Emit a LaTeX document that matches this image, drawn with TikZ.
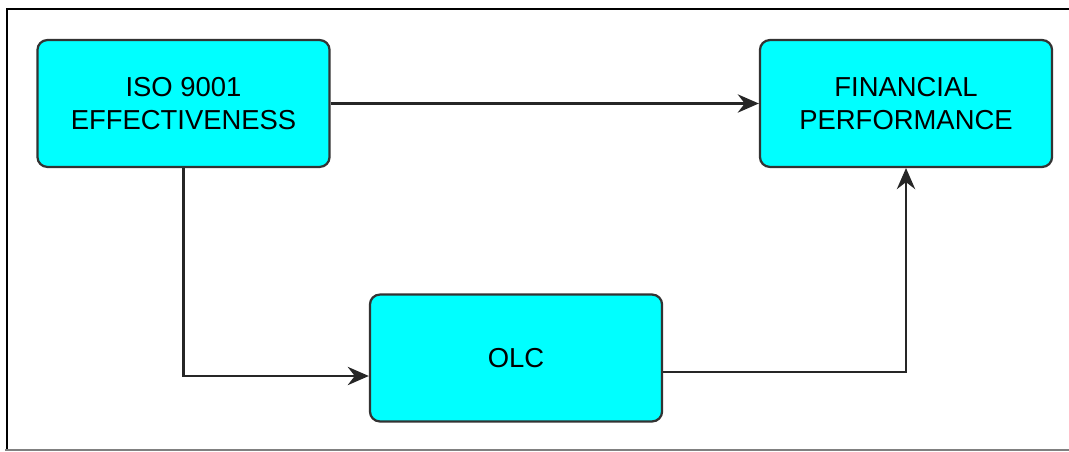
\documentclass[tikz,border=0pt]{standalone}
\usepackage{fontspec}
\setmainfont{Liberation Sans}
\usetikzlibrary{calc}
\usetikzlibrary{arrows.meta}

\tikzset{
  block/.style={draw=black!80, line width=1.6pt, fill={rgb,255:red,0;green,255;blue,255},
    rounded corners=7pt, minimum width=7.3cm, minimum height=3.17cm, align=center,
    font=\fontsize{19.5}{23.5}\selectfont},
  arr/.style={draw=black!85, line width=1.9pt, -{Stealth[length=15pt, width=13pt, inset=5pt]}}
}

\begin{document}
\begin{tikzpicture}[x=0.025cm, y=-0.025cm]
\useasboundingbox (0,0) rectangle (1069,452);
\draw[line width=2pt] (7,449) -- (7,9) -- (1069,9);
\draw[gray, line width=1.6pt] (5,450) -- (1069,450);

\node[block] (iso) at (183.5,103.5) {ISO 9001\\EFFECTIVENESS};
\node[block] (fin) at (906,103.5) {FINANCIAL\\PERFORMANCE};
\node[block] (olc) at (516,358) {OLC};

\coordinate (olcin) at ($(olc.west)+(0,18)$);
\coordinate (olcout) at ($(olc.east)+(0,14)$);

\draw[arr] (iso) -- (fin);
\draw[arr] (iso.south) |- (olcin);
\draw[arr] (olcout) -| (fin.south);
\end{tikzpicture}
\end{document}
